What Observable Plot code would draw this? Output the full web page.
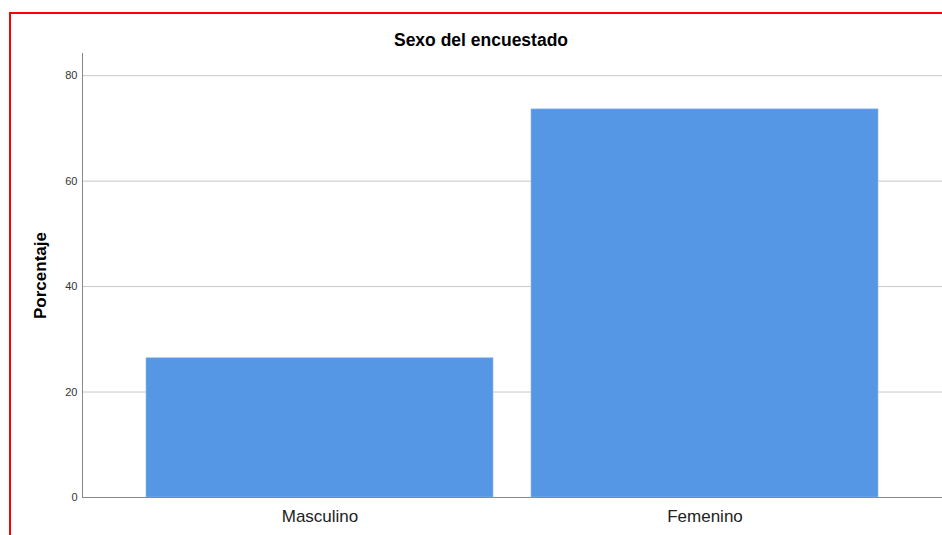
<!DOCTYPE html>
<html>
<head>
<meta charset="utf-8">
<script src="https://cdn.jsdelivr.net/npm/d3@7"></script>
<script src="https://cdn.jsdelivr.net/npm/@observablehq/plot@0.6"></script>
<style>
  html, body { margin: 0; padding: 0; background: #fff; }
  body { width: 942px; height: 535px; position: relative; overflow: hidden; font-family: "Liberation Sans", Arial, sans-serif; }
  #frame { position: absolute; left: 9px; top: 12px; width: 960px; height: 600px; border-top: 2px solid #ff0000; border-left: 2px solid #ff0000; box-sizing: border-box; }
  #title { position: absolute; top: 30px; left: 331px; width: 300px; text-align: center; font-weight: bold; font-size: 17.5px; color: #000; }
  #chart { position: absolute; left: 0; top: 0; }
</style>
</head>
<body>
<div id="frame"></div>
<div id="title">Sexo del encuestado</div>
<div id="chart"></div>
<script>
const categories = ["Masculino", "Femenino"];
const percentages = [26.4, 73.6];
const yTicks = [0, 20, 40, 60, 80];

const data = categories.map((c, i) => ({categoria: c, porcentaje: percentages[i]}));

const chart = Plot.plot({
  width: 942,
  height: 535,
  marginLeft: 82,
  marginRight: 0,
  marginTop: 53,
  marginBottom: 38,
  style: {background: "transparent", fontFamily: "'Liberation Sans', Arial, sans-serif", color: "#222"},
  x: {domain: categories, paddingInner: 0.1, paddingOuter: 0.164, label: null},
  y: {domain: [0, 84.2], ticks: yTicks, label: null},
  marks: [
    Plot.gridY(yTicks, {stroke: "#c8c8c8", strokeOpacity: 1, strokeWidth: 1}),
    Plot.barY(data, {x: "categoria", y: "porcentaje", fill: "#5596e5", stroke: "#8fb8ee", strokeWidth: 0.6}),
    Plot.frame({anchor: "left", stroke: "#888"}),
    Plot.ruleY([0], {stroke: "#888", strokeWidth: 1.2}),
    Plot.axisY(yTicks, {tickSize: 0, tickPadding: 5, fontSize: 11, fill: "#333", label: null}),
    Plot.axisX({tickSize: 0, tickPadding: 12, fontSize: 17, fill: "#222", label: null}),
    Plot.text(["Porcentaje"], {frameAnchor: "left", textAnchor: "middle", dx: -42, rotate: -90, fontSize: 17, fontWeight: "bold", fill: "#000"})
  ]
});
document.getElementById("chart").appendChild(chart);
</script>
</body>
</html>
